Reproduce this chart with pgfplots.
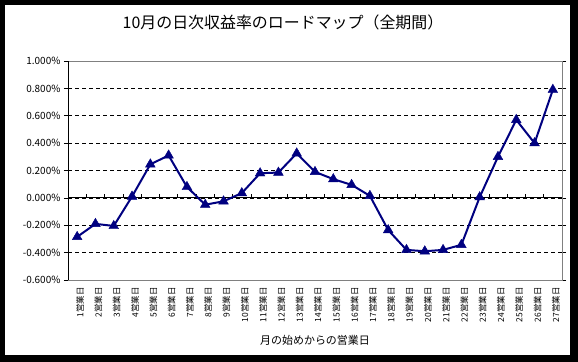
\documentclass[border=0pt]{standalone}
\usepackage{fontspec}
\setmainfont{Noto Sans CJK JP}
\usepackage{pgfplots}
\pgfplotsset{compat=1.18}
\definecolor{navy}{RGB}{0,0,128}
\begin{document}
\begin{tikzpicture}
\useasboundingbox (0bp,0bp) rectangle (578bp,362bp);
\fill[black] (0bp,0bp) rectangle (578bp,362bp);
\fill[white] (5bp,7bp) rectangle (570bp,357bp);
\node[font=\fontsize{16}{19}\selectfont] at (283bp,340bp) {10月の日次収益率のロードマップ（全期間）};
\node[font=\fontsize{11}{13}\selectfont] at (315bp,22bp) {月の始めからの営業日};
\begin{axis}[
  at={(68bp,82bp)}, anchor=south west,
  scale only axis, width=494bp, height=219bp,
  xmin=0.5, xmax=27.5, ymin=-0.6, ymax=1.0,
  ytick={-0.6,-0.4,-0.2,0,0.2,0.4,0.6,0.8,1.0},
  xtick={1,...,27},
  xticklabels={1営業日,2営業日,3営業日,4営業日,5営業日,6営業日,7営業日,8営業日,9営業日,10営業日,11営業日,12営業日,13営業日,14営業日,15営業日,16営業日,17営業日,18営業日,19営業日,20営業日,21営業日,22営業日,23営業日,24営業日,25営業日,26営業日,27営業日},
  x tick label style={rotate=90, anchor=east, font=\fontsize{8.5}{10}\selectfont, yshift=-3bp},
  y tick label style={font=\fontsize{10}{12}\selectfont},
  /pgf/number format/assume math mode=true,
  yticklabel={\pgfmathprintnumber[fixed, fixed zerofill, precision=3]{\tick}\%},
  tick align=outside,
  major tick length=4bp,
  xtick style={draw=none},
  ytick style={black, line width=0.6bp},
  axis line style={gray, line width=0.8bp},
  ymajorgrids,
  grid style={black, line width=0.7bp, dash pattern=on 4bp off 3bp},
  clip=false,
]
\draw[black, line width=0.8bp] (axis cs:0.5,0) -- (axis cs:27.5,0);
\draw[black, line width=0.8bp] (axis cs:0.5,-0.6) -- (axis cs:0.5,1.0);
\pgfplotsinvokeforeach{1,...,26}{\draw[black, line width=0.6bp] (axis cs:#1.5,0) -- ++(0bp,4bp);}
\addplot[color=navy, line width=2bp, mark=triangle*, mark size=5.6bp, mark options={solid, line width=0.4bp}] coordinates {
(1,-0.285) (2,-0.19) (3,-0.205) (4,0.01) (5,0.245) (6,0.31) (7,0.08) (8,-0.05) (9,-0.025)
(10,0.035) (11,0.18) (12,0.185) (13,0.325) (14,0.19) (15,0.137) (16,0.095) (17,0.015)
(18,-0.235) (19,-0.38) (20,-0.39) (21,-0.38) (22,-0.343) (23,0.005) (24,0.30) (25,0.57)
(26,0.40) (27,0.79)
};
\end{axis}
\end{tikzpicture}
\end{document}
